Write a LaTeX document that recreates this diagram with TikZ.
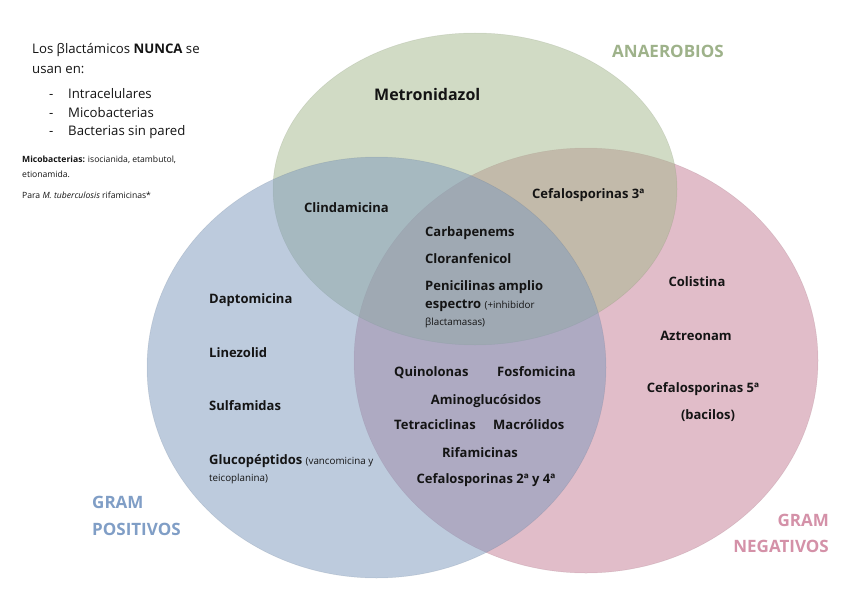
\documentclass[tikz,border=0pt]{standalone}
\usepackage{fontspec}
\setmainfont{Open Sans}
\definecolor{gpos}{RGB}{125,153,189}
\definecolor{gneg}{RGB}{197,125,149}
\definecolor{anae}{RGB}{165,185,141}
\definecolor{txt}{RGB}{20,20,20}
\definecolor{anaetxt}{RGB}{158,178,138}
\definecolor{postxt}{RGB}{128,158,198}
\definecolor{negtxt}{RGB}{212,145,168}
\newcommand\smallpar{\fontsize{9.8}{11}\selectfont\mdseries}
\begin{document}
\begin{tikzpicture}[x=1pt,y=-1pt,
  lab/.style={font=\fontsize{13}{15}\selectfont\bfseries, text=txt, inner sep=0pt},
  cat/.style={font=\fontsize{17}{19}\selectfont\bfseries, inner sep=0pt},
  note/.style={font=\fontsize{13.2}{15}\selectfont, inner sep=0pt, text=txt},
  tinynote/.style={font=\fontsize{8.6}{10}\selectfont, inner sep=0pt, text=txt},
  setfill/.style={fill opacity=0.5, draw opacity=0.2, line width=0.5pt}]
\useasboundingbox (0,0) rectangle (848,599);
\fill[white] (0,0) rectangle (848,599);
% sets
\path[setfill, fill=gneg, draw=gneg!70!black] (586,360.5) ellipse [x radius=232, y radius=212.5];
\path[setfill, fill=anae, draw=anae!70!black] (475,189) ellipse [x radius=202, y radius=156];
\path[setfill, fill=gpos, draw=gpos!70!black] (376.5,367.5) ellipse [x radius=229.5, y radius=210.5];
\begin{scope}[yshift=-3pt]
% category labels
\node[cat, text=anaetxt, anchor=mid west] (anaer) at (612,52) {ANAEROBIOS};
\node[cat, text=postxt, anchor=mid west] (gp1) at (92,503) {GRAM};
\node[cat, text=postxt, anchor=mid west] (gp2) at (92,530) {POSITIVOS};
\node[cat, text=negtxt, anchor=mid east] (gn1) at (829,521) {GRAM};
\node[cat, text=negtxt, anchor=mid east] (gn2) at (829,547) {NEGATIVOS};
% top-left notes
\node[note, anchor=mid west] (n1) at (32,48) {Los βlactámicos \textbf{NUNCA} se};
\node[note, anchor=mid west] (n2) at (32,68) {usan en:};
\node[note, anchor=mid west] (d1) at (49,93) {-};
\node[note, anchor=mid west] (d2) at (49,112) {-};
\node[note, anchor=mid west] (d3) at (49,130) {-};
\node[note, anchor=mid west] (b1) at (68,93) {Intracelulares};
\node[note, anchor=mid west] (b2) at (68,112) {Micobacterias};
\node[note, anchor=mid west] (b3) at (68,130) {Bacterias sin pared};
\node[tinynote, anchor=mid west] (m1) at (22,157) {\textbf{Micobacterias:} isocianida, etambutol,};
\node[tinynote, anchor=mid west] (m2) at (22,172) {etionamida.};
\node[tinynote, anchor=mid west] (m3) at (22,193) {Para \textit{M. tuberculosis} rifamicinas*};
% anaerobios
\node[lab, font=\fontsize{16}{18}\selectfont\bfseries, anchor=mid west] (metro) at (374,95) {Metronidazol};
\node[lab, anchor=mid west] (clinda) at (304,207) {Clindamicina};
\node[lab, anchor=mid west] (cef3) at (532,193) {Cefalosporinas 3ª};
% triple
\node[lab, anchor=mid west] (carba) at (425,231) {Carbapenems};
\node[lab, anchor=mid west] (clora) at (425,258) {Cloranfenicol};
\node[lab, anchor=mid west] (peni1) at (425,285) {Penicilinas amplio};
\node[lab, anchor=mid west] (peni2) at (425,303) {espectro {\smallpar(+inhibidor}};
\node[lab, anchor=mid west] (peni3) at (425,320) {\smallpar βlactamasas)};
% gram positivos
\node[lab, anchor=mid west] (dapto) at (209,298) {Daptomicina};
\node[lab, anchor=mid west] (line) at (209,352) {Linezolid};
\node[lab, anchor=mid west] (sulfa) at (209,405) {Sulfamidas};
\node[lab, anchor=mid west] (gluco1) at (209,459) {Glucopéptidos {\smallpar(vancomicina y}};
\node[lab, anchor=mid west] (gluco2) at (209,476) {\smallpar teicoplanina)};
% gram negativos
\node[lab] (coli) at (697,279) {Colistina};
\node[lab] (aztreo) at (696,333) {Aztreonam};
\node[lab] (cef5) at (703,386) {Cefalosporinas 5ª};
\node[lab] (baci) at (708,413) {(bacilos)};
% gram + and -
\node[lab, anchor=mid west] (quino) at (394,371) {Quinolonas};
\node[lab, anchor=mid west] (fosfo) at (497,371) {Fosfomicina};
\node[lab] (amino) at (486,398) {Aminoglucósidos};
\node[lab, anchor=mid west] (tetra) at (394,424) {Tetraciclinas};
\node[lab, anchor=mid west] (macro) at (493,424) {Macrólidos};
\node[lab] (rifa) at (480,450) {Rifamicinas};
\node[lab] (cef24) at (486,477) {Cefalosporinas 2ª y 4ª};
\end{scope}
\end{tikzpicture}
\end{document}
